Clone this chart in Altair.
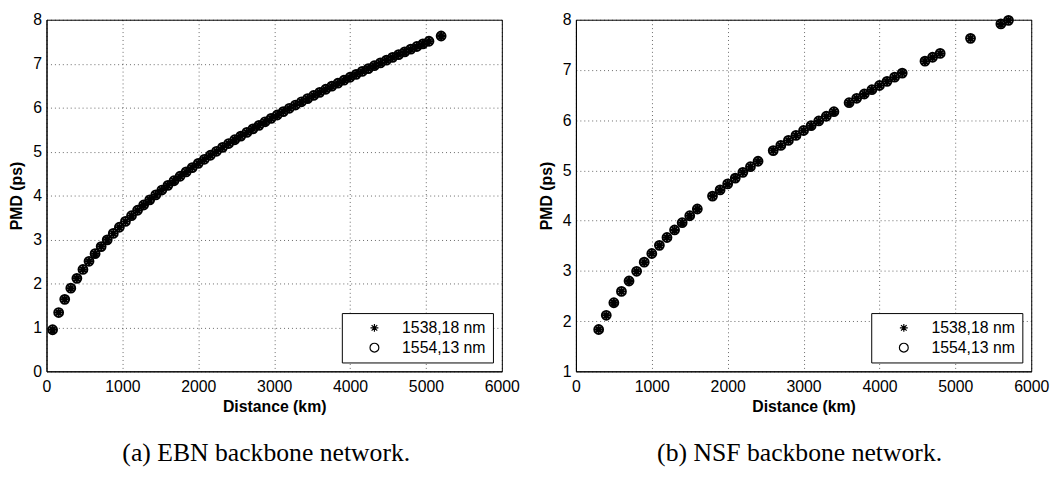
import altair as alt
import pandas as pd

# ---------------- data ----------------
series_names = ["1538,18 nm", "1554,13 nm"]

ebn_distance = [80, 160, 240, 320, 400, 480, 560, 640, 720, 800,
                880, 960, 1040, 1120, 1200, 1280, 1360, 1440, 1520, 1600,
                1680, 1760, 1840, 1920, 2000, 2080, 2160, 2240, 2320, 2400,
                2480, 2560, 2640, 2720, 2800, 2880, 2960, 3040, 3120, 3200,
                3280, 3360, 3440, 3520, 3600, 3680, 3760, 3840, 3920, 4000,
                4080, 4160, 4240, 4320, 4400, 4480, 4560, 4640, 4720, 4800,
                4880, 4960, 5040, 5200]
ebn_pmd_1538 = [0.946, 1.338, 1.639, 1.893, 2.116, 2.318, 2.504, 2.677, 2.839, 2.992,
                3.139, 3.278, 3.412, 3.541, 3.665, 3.785, 3.902, 4.015, 4.125, 4.232,
                4.337, 4.439, 4.538, 4.636, 4.732, 4.825, 4.917, 5.007, 5.096, 5.183,
                5.269, 5.353, 5.436, 5.518, 5.598, 5.678, 5.756, 5.833, 5.910, 5.985,
                6.059, 6.133, 6.205, 6.277, 6.348, 6.418, 6.488, 6.556, 6.624, 6.691,
                6.758, 6.824, 6.889, 6.954, 7.018, 7.081, 7.144, 7.207, 7.269, 7.330,
                7.391, 7.451, 7.511, 7.630]
ebn_pmd_1554 = [0.946, 1.338, 1.639, 1.893, 2.116, 2.318, 2.504, 2.677, 2.839, 2.992,
                3.139, 3.278, 3.412, 3.541, 3.665, 3.785, 3.902, 4.015, 4.125, 4.232,
                4.337, 4.439, 4.538, 4.636, 4.732, 4.825, 4.917, 5.007, 5.096, 5.183,
                5.269, 5.353, 5.436, 5.518, 5.598, 5.678, 5.756, 5.833, 5.910, 5.985,
                6.059, 6.133, 6.205, 6.277, 6.348, 6.418, 6.488, 6.556, 6.624, 6.691,
                6.758, 6.824, 6.889, 6.954, 7.018, 7.081, 7.144, 7.207, 7.269, 7.330,
                7.391, 7.451, 7.511, 7.630]

nsf_distance = [300, 400, 500, 600, 700, 800, 900, 1000, 1100, 1200,
                1300, 1400, 1500, 1600, 1800, 1900, 2000, 2100, 2200, 2300,
                2400, 2600, 2700, 2800, 2900, 3000, 3100, 3200, 3300, 3400,
                3600, 3700, 3800, 3900, 4000, 4100, 4200, 4300, 4600, 4700,
                4800, 5200, 5600, 5700]
nsf_pmd_1538 = [1.833, 2.116, 2.366, 2.592, 2.799, 2.992, 3.174, 3.346, 3.509, 3.665,
                3.815, 3.959, 4.098, 4.232, 4.489, 4.612, 4.732, 4.848, 4.962, 5.074,
                5.183, 5.395, 5.498, 5.598, 5.697, 5.795, 5.891, 5.985, 6.078, 6.169,
                6.348, 6.436, 6.522, 6.607, 6.691, 6.774, 6.857, 6.938, 7.176, 7.253,
                7.330, 7.629, 7.917, 7.988]
nsf_pmd_1554 = [1.833, 2.116, 2.366, 2.592, 2.799, 2.992, 3.174, 3.346, 3.509, 3.665,
                3.815, 3.959, 4.098, 4.232, 4.489, 4.612, 4.732, 4.848, 4.962, 5.074,
                5.183, 5.395, 5.498, 5.598, 5.697, 5.795, 5.891, 5.985, 6.078, 6.169,
                6.348, 6.436, 6.522, 6.607, 6.691, 6.774, 6.857, 6.938, 7.176, 7.253,
                7.330, 7.629, 7.917, 7.988]

x_ticks = [0, 1000, 2000, 3000, 4000, 5000, 6000]
ebn_y_ticks = [0, 1, 2, 3, 4, 5, 6, 7, 8]
nsf_y_ticks = [1, 2, 3, 4, 5, 6, 7, 8]
captions = ["(a)  EBN backbone network.", "(b)  NSF backbone network."]

# ---------------- styling ----------------
ASTERISK = "M-1,0L1,0M0,-1L0,1M-0.71,-0.71L0.71,0.71M-0.71,0.71L0.71,-0.71"
SANS = "Liberation Sans"
SERIF = "Liberation Serif"


def frame(dist, p1, p2):
    n = len(dist)
    return pd.DataFrame({
        "Distance": list(dist) + list(dist),
        "PMD": list(p1) + list(p2),
        "Wavelength": [series_names[0]] * n + [series_names[1]] * n,
    })


def panel(df, ydomain, yticks, caption, cap_dx):
    legend = alt.Legend(
        title=None, orient="bottom-right", offset=9,
        strokeColor="black", fillColor="white",
        padding=7, rowPadding=4, labelOffset=20, symbolOffset=18,
        labelFont=SANS, labelFontSize=16, labelColor="black",
        symbolStrokeColor="black", symbolFillColor="transparent",
        symbolStrokeWidth=1.2, cornerRadius=0,
    )
    return alt.Chart(df).mark_point(
        filled=False, color="black", strokeWidth=2.0, opacity=1
    ).encode(
        x=alt.X("Distance:Q", title="Distance (km)",
                scale=alt.Scale(domain=[0, 6000], nice=False, zero=False),
                axis=alt.Axis(values=x_ticks, format="d", labelFlush=False)),
        y=alt.Y("PMD:Q", title="PMD (ps)",
                scale=alt.Scale(domain=ydomain, nice=False, zero=False),
                axis=alt.Axis(values=yticks, format="d", labelFlush=False)),
        shape=alt.Shape("Wavelength:N",
                        scale=alt.Scale(domain=series_names, range=[ASTERISK, "circle"]),
                        legend=legend),
        size=alt.Size("Wavelength:N",
                      scale=alt.Scale(domain=series_names, range=[64, 80]),
                      legend=legend),
    ).properties(
        width=461, height=356,
        title=alt.TitleParams(caption, orient="bottom", anchor="middle",
                              font=SERIF, fontSize=26, fontWeight="normal",
                              color="black", offset=26, dx=cap_dx),
    )


left = panel(frame(ebn_distance, ebn_pmd_1538, ebn_pmd_1554), [0, 8], ebn_y_ticks, captions[0], -8)
right = panel(frame(nsf_distance, nsf_pmd_1538, nsf_pmd_1554), [1, 8], nsf_y_ticks, captions[1], -4)

chart = alt.hconcat(left, right, spacing=17).resolve_scale(
    y="independent", shape="independent", size="independent"
).properties(padding={"left": 0, "top": 0, "right": 0, "bottom": 0}).configure_view(
    stroke="black", strokeWidth=1
).configure_axis(
    domain=True, domainColor="black", domainWidth=1,
    ticks=False, labelPadding=7,
    labelFont=SANS, labelFontSize=16, labelColor="black",
    titleFont=SANS, titleFontSize=16, titleFontWeight="bold", titleColor="black",
    grid=True, gridColor="black", gridDash=[1, 3], gridOpacity=0.6, gridWidth=1,
).configure_axisY(titlePadding=8, labelPadding=5).configure_axisX(titlePadding=5)

chart.save("out.html", embed_options={"renderer": "svg", "actions": False})
